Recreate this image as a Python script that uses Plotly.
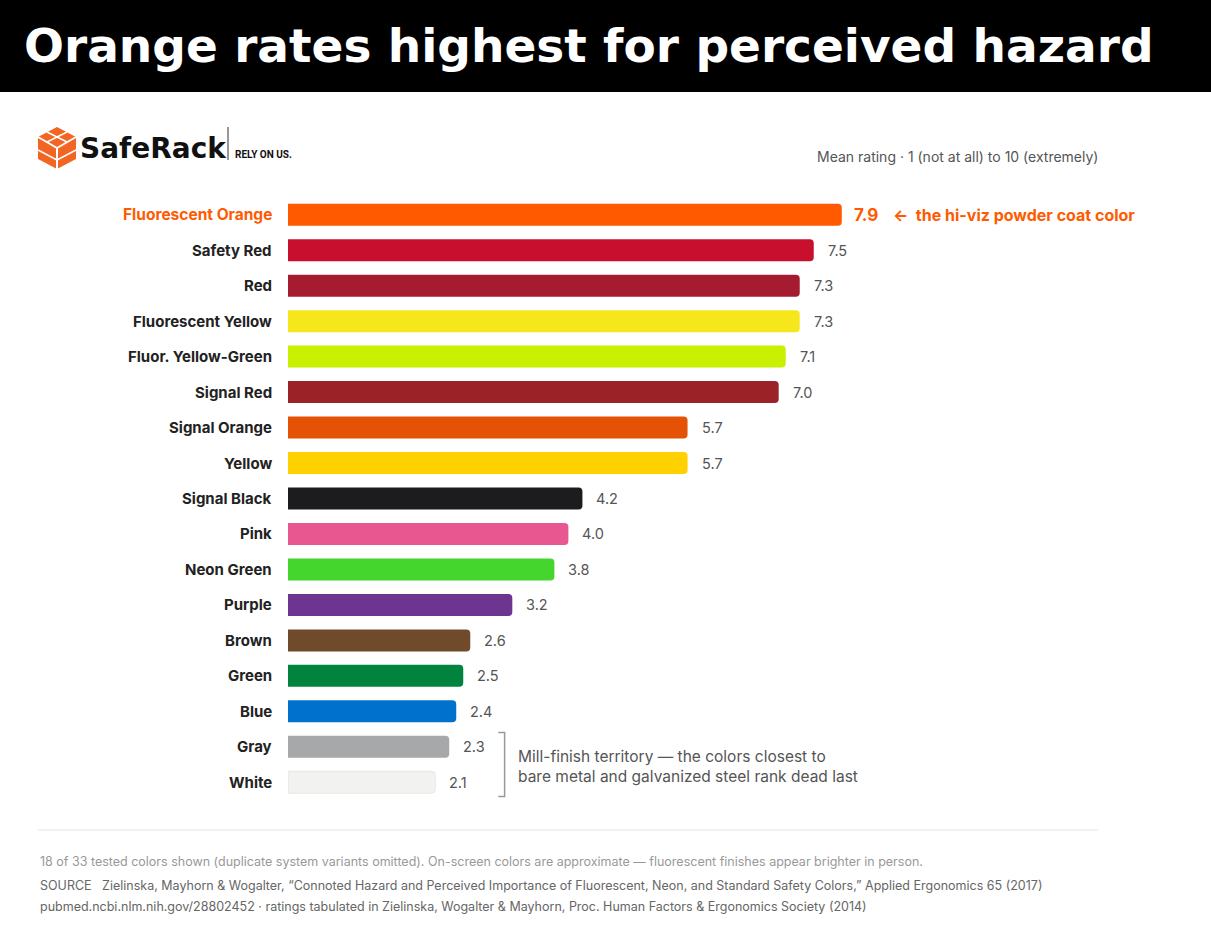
import plotly.graph_objects as go

colors_names = ["Fluorescent Orange", "Safety Red", "Red", "Fluorescent Yellow",
                "Fluor. Yellow-Green", "Signal Red", "Signal Orange", "Yellow",
                "Signal Black", "Pink", "Neon Green", "Purple", "Brown", "Green",
                "Blue", "Gray", "White"]
ratings = [7.9, 7.5, 7.3, 7.3, 7.1, 7.0, 5.7, 5.7, 4.2, 4.0, 3.8, 3.2, 2.6, 2.5, 2.4, 2.3, 2.1]
bar_colors = ["#ff5a00", "#c8102e", "#a51c30", "#f5e71c", "#c8f000", "#9b2226",
              "#e35205", "#ffd100", "#1c1c1e", "#e8578f", "#44d62c", "#6d3590",
              "#6f4a2b", "#00843d", "#0072ce", "#a7a8aa", "#f2f2f0"]

W, H = 1211, 942
L, R, T, B = 288, 1100, 197, 800
xmax = (R - L) / 70.1


def px(X):
    return (X - L) / (R - L)


def py(Y):
    return (B - Y) / (B - T)


fig = go.Figure(go.Bar(
    x=ratings, y=colors_names, orientation="h",
    marker=dict(color=bar_colors, line=dict(color="#e6e6e6", width=[0] * 16 + [1])),
    width=0.62, hoverinfo="skip",
))

annotations = []
for i, (name, v) in enumerate(zip(colors_names, ratings)):
    top = i == 0
    annotations.append(dict(x=0, y=name, xref="x", yref="y", text="<b>%s</b>" % name,
                            showarrow=False, xanchor="right", yanchor="middle", xshift=-14,
                            font=dict(family="Inter", size=15.5 if top else 15,
                                      color="#ff5a00" if top else "#222222")))
    annotations.append(dict(x=v, y=name, xref="x", yref="y",
                            text=("<b>%.1f</b>" if top else "%.1f") % v,
                            showarrow=False, xanchor="left", yanchor="middle",
                            xshift=10 if top else 12,
                            font=dict(family="Inter", size=17 if top else 14.5,
                                      color="#ff5a00" if top else "#555555")))


def note(X, Y, text, size, color, family="Inter", xanchor="left", align="left"):
    return dict(x=px(X), y=py(Y), xref="paper", yref="paper", xanchor=xanchor,
                yanchor="middle", align=align, text=text, showarrow=False,
                font=dict(family=family, size=size, color=color))


annotations += [
    note(891, 215, "<b>←  the hi-viz powder coat color</b>", 16, "#ff5a00"),
    note(516, 766, "Mill-finish territory — the colors closest to<br>bare metal and galvanized steel rank dead last",
         15.5, "#555555"),
    note(22, 46, "<b>Orange rates highest for perceived hazard</b>", 47, "white", family="DejaVu Sans"),
    note(1100, 156, "Mean rating · 1 (not at all) to 10 (extremely)", 14, "#555555", xanchor="right"),
    note(78, 148, "<b>SafeRack</b>", 28, "#111111", family="DejaVu Sans"),
    note(233, 154, "<b>RELY ON US.</b>", 10, "#111111", family="Roboto"),
    note(38, 861, "18 of 33 tested colors shown (duplicate system variants omitted). On-screen colors are approximate — fluorescent finishes appear brighter in person.",
         12.5, "#999999"),
    note(38, 885, "SOURCE   Zielinska, Mayhorn & Wogalter, “Connoted Hazard and Perceived Importance of Fluorescent, Neon, and Standard Safety Colors,” Applied Ergonomics 65 (2017)",
         12.5, "#666666"),
    note(38, 906, "pubmed.ncbi.nlm.nih.gov/28802452 · ratings tabulated in Zielinska, Wogalter & Mayhorn, Proc. Human Factors & Ergonomics Society (2014)",
         12.5, "#666666"),
]

# logo cube
cx, cy = 57, 148
cube = "M %f %f L %f %f L %f %f L %f %f L %f %f L %f %f Z" % tuple(
    v for X, Y in [(cx, cy - 21), (cx + 19, cy - 11), (cx + 19, cy + 11),
                   (cx, cy + 21), (cx - 19, cy + 11), (cx - 19, cy - 11)]
    for v in (px(X), py(Y)))


def pline(x0, y0, x1, y1, color, width):
    return dict(type="line", xref="paper", yref="paper", x0=px(x0), x1=px(x1),
                y0=py(y0), y1=py(y1), line=dict(color=color, width=width))


shapes = [
    dict(type="rect", xref="paper", yref="paper", x0=px(0), x1=px(W), y0=py(0), y1=py(92),
         fillcolor="black", line_width=0, layer="below"),
    dict(type="path", xref="paper", yref="paper", path=cube, fillcolor="#f26522", line_width=0),
    pline(cx - 19, cy - 11, cx, cy, "white", 2),
    pline(cx + 19, cy - 11, cx, cy, "white", 2),
    pline(cx, cy, cx, cy + 21, "white", 2),
    pline(cx - 19, cy + 2, cx, cy + 12, "white", 1.5),
    pline(cx + 19, cy + 2, cx, cy + 12, "white", 1.5),
    pline(cx - 10, cy - 16, cx + 10, cy - 6, "white", 1.5),
    pline(cx + 10, cy - 16, cx - 10, cy - 6, "white", 1.5),
    pline(228, 127, 228, 160, "#333333", 1),
    dict(type="path", xref="x", yref="y",
         path="M 3.0 14.6 L 3.09 14.6 L 3.09 16.4 L 3.0 16.4",
         line=dict(color="#999999", width=1.5)),
    pline(38, 830, 1098, 830, "#e3e3e3", 1),
]

fig.update_layout(
    width=W, height=H, margin=dict(l=L, r=W - R, t=T, b=H - B),
    paper_bgcolor="white", plot_bgcolor="white", showlegend=False,
    barcornerradius=4,
    xaxis=dict(range=[0, xmax], visible=False, fixedrange=True),
    yaxis=dict(autorange="reversed", showticklabels=False, showgrid=False,
               zeroline=False, fixedrange=True),
    annotations=annotations, shapes=shapes,
)

fig.write_html("out.html", config={"displayModeBar": False},
               post_script="document.body.style.margin='0';")
